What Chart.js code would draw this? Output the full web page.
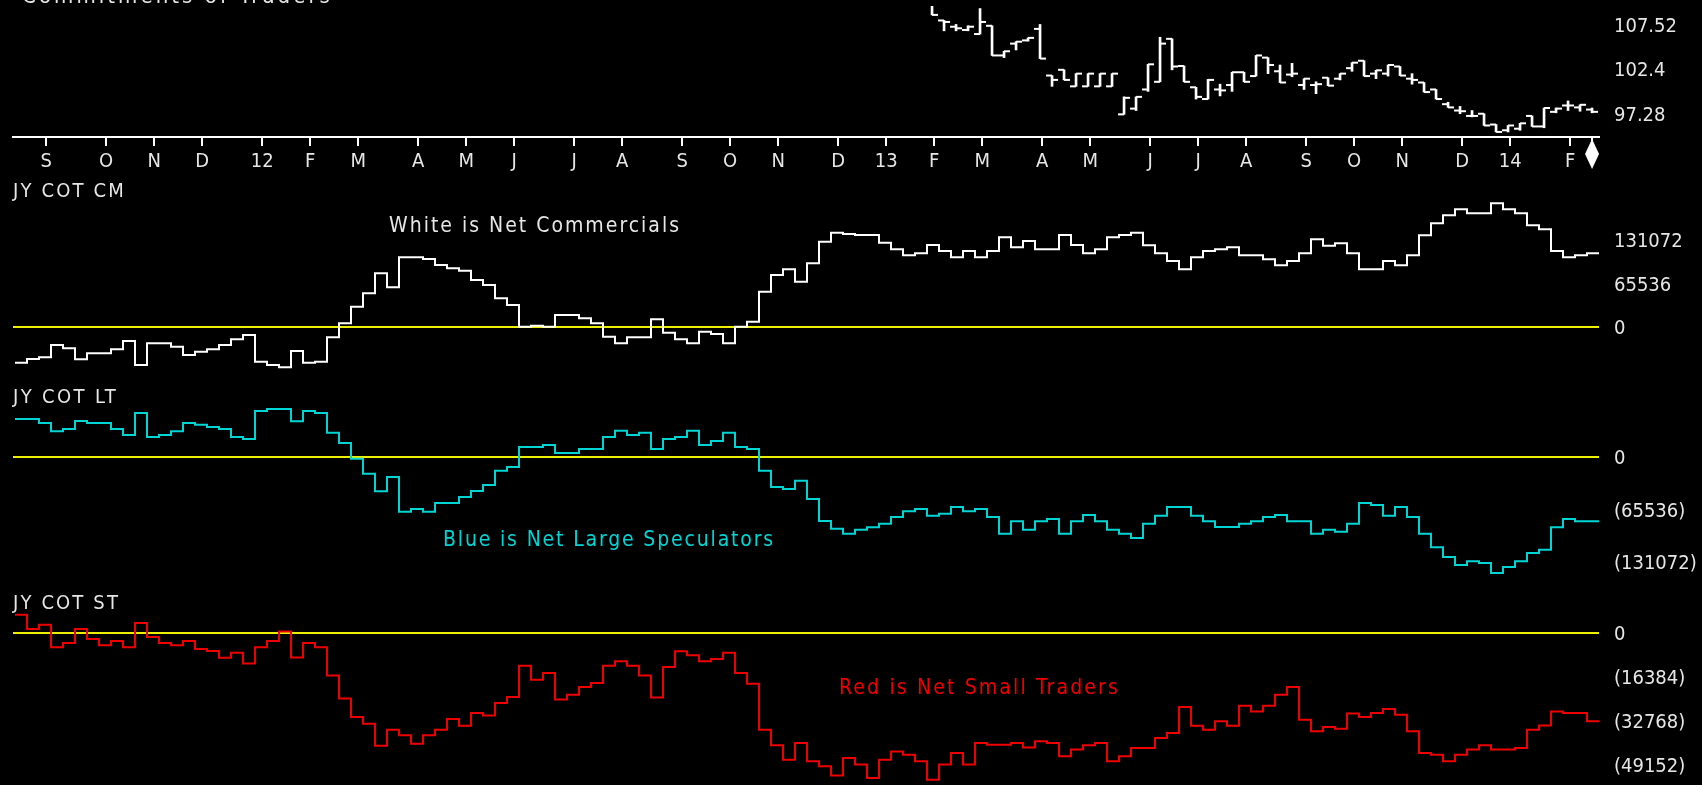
<!DOCTYPE html>
<html>
<head>
<meta charset="utf-8">
<script src="https://cdn.jsdelivr.net/npm/chart.js@4.4.0/dist/chart.umd.min.js"></script>
<style>
  html, body { margin: 0; padding: 0; background: #000; }
  #wrap { position: relative; width: 1702px; height: 785px; overflow: hidden; background: #000; }
  #wrap canvas { position: absolute; left: 0; top: 0; }
  .lbl { position: absolute; white-space: nowrap; line-height: 1;
         font-family: "DejaVu Sans Condensed", "DejaVu Sans", sans-serif; color: #e6e6e6; }
</style>
</head>
<body>
<div id="wrap">
  <canvas id="priceChart" width="1702" height="785"></canvas>
  <canvas id="cmChart" width="1702" height="785"></canvas>
  <canvas id="ltChart" width="1702" height="785"></canvas>
  <canvas id="stChart" width="1702" height="785"></canvas>

  <div class="lbl" data-x="22" data-base="4" data-w="311" data-size="22">Commitments of Traders</div>
  <div class="lbl" data-x="13" data-base="197" data-w="113" data-size="20">JY COT CM</div>
  <div class="lbl" data-x="389" data-base="233" data-w="292" data-size="21">White is Net Commercials</div>
  <div class="lbl" data-x="13" data-base="403" data-w="105" data-size="20">JY COT LT</div>
  <div class="lbl" data-x="443" data-base="547" data-w="332" data-size="21" style="color:#00d5d5">Blue is Net Large Speculators</div>
  <div class="lbl" data-x="13" data-base="609" data-w="107" data-size="20">JY COT ST</div>
  <div class="lbl" data-x="839" data-base="695" data-w="281" data-size="21" style="color:#ee0000">Red is Net Small Traders</div>
</div>

<script>
// weekly axis: Sep 2011 .. Feb 2014
const monthLabels = ['S','O','N','D','12','F','M','A','M','J','J','A','S','O','N','D','13','F','M','A','M','J','J','A','S','O','N','D','14','F', ''];
const monthTickPos = [2.6, 7.6, 11.6, 15.6, 20.6, 24.6, 28.6, 33.6, 37.6, 41.6, 46.6, 50.6, 55.6, 59.6, 63.6,
  68.6, 72.6, 76.6, 80.6, 85.6, 89.6, 94.6, 98.6, 102.6, 107.6, 111.6, 115.6, 120.6, 124.6, 129.6, 131.42];
const currentWeek = 131.42;

// net commercials (white)
const cmValues = [-53700, -48200, -45700, -27100, -32100, -48700, -39700, -39700, -33600, -21100,
  -57300, -24600, -24600, -29600, -42200, -37200, -33600, -27100, -18600, -12100,
  -52200, -57300, -60800, -36200, -53700, -52200, -15600, 5500, 30600, 50700,
  80900, 59800, 105000, 105000, 102400, 93400, 88400, 84900, 70800, 63300,
  43200, 33100, 500, 2000, 500, 18100, 18100, 13100, 5500, -14600,
  -24600, -15600, -15600, 11600, -8500, -18600, -24600, -7000, -10500, -24600,
  500, 8000, 53200, 78300, 86900, 68300, 95900, 128600, 142100, 140100,
  138600, 138600, 127100, 117000, 108000, 111000, 123500, 114500, 105000, 114500,
  105000, 114500, 135100, 120000, 129600, 117000, 117000, 138600, 123500, 111000,
  117000, 135100, 138600, 142100, 123000, 111000, 99400, 86900, 105000, 114500,
  117000, 120000, 108000, 108000, 101900, 92900, 99400, 111000, 132100, 122500,
  126100, 111000, 86900, 86900, 99400, 92900, 108000, 138100, 156200, 168200,
  177300, 171300, 171300, 186300, 177300, 171300, 153200, 147100, 114500, 105000,
  108000, 111000];

// net large speculators (cyan)
const ltValues = [47400, 47400, 42400, 32000, 35000, 44900, 42400, 42400, 35000, 27500,
  54900, 25000, 27500, 32000, 42400, 40400, 37400, 35000, 25000, 22500,
  57400, 59900, 59900, 44500, 57400, 54900, 30400, 17500, -2100, -20800,
  -42900, -25000, -68200, -64900, -68200, -57400, -57400, -49900, -42400, -35000,
  -17100, -12500, 12500, 12500, 15000, 5000, 5000, 10000, 10000, 25000,
  32900, 27500, 30400, 10000, 22500, 25000, 32900, 15000, 20000, 30400,
  12500, 10000, -17100, -37400, -39900, -29500, -52400, -79900, -89500, -95700,
  -90700, -87800, -83200, -74900, -67800, -64900, -73200, -70700, -62400, -67800,
  -64900, -74900, -95700, -80300, -90700, -80300, -77400, -95700, -80300, -72400,
  -80300, -90700, -95700, -101100, -83200, -73200, -62400, -62400, -73200, -80300,
  -87400, -87400, -83200, -80300, -74900, -72400, -80300, -80300, -95700, -90700,
  -93200, -83200, -57400, -59900, -73200, -62400, -74900, -95700, -112800, -124800,
  -134800, -130200, -132300, -144800, -137300, -130200, -119800, -115700, -87800, -77400,
  -80300, -80300];

// net small traders (red)
const stValues = [6800, 1500, 3100, -5300, -3700, 1500, -2200, -4600, -3000, -5300,
  3700, -1500, -3700, -4600, -3000, -6000, -6700, -9200, -7400, -11400,
  -5300, -3000, 600, -9100, -3700, -5300, -15800, -24400, -31300, -33800,
  -42000, -36000, -38100, -41200, -38100, -36000, -32000, -34500, -29800, -30700,
  -26100, -23800, -12200, -17400, -14900, -24800, -23000, -20100, -18600, -12200,
  -10500, -12200, -15800, -24000, -12700, -6800, -8300, -10500, -9700, -7400,
  -14900, -18900, -36000, -41800, -47200, -41000, -47800, -49600, -53100, -46500,
  -49000, -54000, -47200, -44100, -45300, -47800, -54600, -49000, -44700, -49000,
  -41000, -41600, -41600, -41000, -42600, -40300, -41000, -45900, -43400, -41800,
  -41000, -47800, -45900, -42800, -42800, -39100, -37200, -27600, -34500, -36000,
  -32900, -34500, -27100, -29200, -27100, -23000, -20100, -32300, -36600, -35000,
  -35700, -30000, -31300, -29800, -28300, -30400, -36600, -44700, -45300, -47800,
  -45300, -43400, -41800, -43400, -43400, -42800, -36000, -34400, -29200, -29800,
  -29800, -32900];

// weekly yen futures bars, first visible week = 76
const priceFirstWeek = 76;
const priceOpen = [110.0, 107.99, 107.27, 106.9, 106.43, 107.38, 103.97, 105.33, 105.70, 107.02,
  101.66, 102.32, 100.42, 100.42, 100.42, 100.42, 97.2, 97.86, 100.06, 100.94,
  105.88, 102.76, 100.31, 98.96, 100.06, 100.57, 102.04, 101.6, 103.72, 102.15,
  101.77, 100.57, 100.57, 101.41, 101.30, 102.51, 103.36, 101.88, 101.88, 102.7,
  101.30, 100.86, 100.06, 98.37, 97.64, 97.02, 97.27, 96.03, 95.37, 95.55,
  97.02, 95.81, 97.49, 98.22, 98.0, 97.75];
const priceHigh = [110.5, 107.99, 107.53, 107.38, 109.36, 107.38, 104.45, 105.55, 105.99, 107.53,
  101.66, 102.32, 101.88, 101.88, 101.88, 101.88, 99.21, 99.21, 102.95, 106.06,
  105.88, 102.76, 100.31, 101.22, 100.67, 102.04, 102.04, 103.97, 103.72, 102.87,
  103.06, 101.30, 100.94, 101.41, 101.88, 103.14, 103.36, 102.26, 102.87, 102.7,
  101.88, 100.86, 100.06, 98.59, 98.11, 97.64, 97.27, 96.03, 95.92, 96.17,
  97.02, 97.93, 97.93, 98.74, 98.30, 97.93];
const priceLow = [108.63, 106.8, 106.8, 106.8, 106.43, 103.97, 103.72, 104.6, 105.62, 103.61,
  100.42, 101.16, 100.42, 100.42, 100.42, 100.42, 97.2, 97.64, 99.84, 100.94,
  102.32, 100.94, 98.96, 98.96, 99.32, 99.84, 100.94, 101.6, 101.88, 100.86,
  101.52, 100.06, 99.58, 100.50, 101.16, 102.15, 101.6, 101.30, 101.6, 101.66,
  100.67, 99.76, 98.96, 98.0, 97.27, 96.91, 95.92, 95.18, 95.18, 95.37,
  95.81, 95.66, 97.38, 97.64, 97.56, 97.38];
const priceClose = [108.63, 107.82, 107.09, 107.27, 107.82, 103.97, 104.45, 105.55, 105.99, 103.61,
  101.16, 101.16, 101.88, 101.88, 101.88, 101.88, 99.1, 99.21, 102.95, 105.33,
  102.7, 100.94, 99.21, 101.16, 99.95, 102.04, 100.94, 103.97, 102.87, 100.86,
  101.88, 101.30, 100.67, 100.50, 101.88, 103.14, 101.6, 102.26, 102.87, 101.66,
  101.16, 99.76, 98.96, 98.0, 97.56, 97.02, 95.92, 95.18, 95.92, 96.17,
  95.81, 97.93, 97.86, 98.22, 98.30, 97.49];

const priceTicks = [97.28, 102.4, 107.52];
const cmTicks = [0, 65536, 131072];
const ltTicks = [0, -65536, -131072];
const stTicks = [0, -16384, -32768, -49152];

// ---- layout / style ----
const FONT = '"DejaVu Sans Condensed", "DejaVu Sans", sans-serif';
const TEXT = '#e6e6e6';
const ZERO = '#eeee00';
const X_MIN = -0.1667, X_MAX = 132;
const BAR_POS = 0.42, TICK_OFF = 0.25;
const fmt = v => v < 0 ? '(' + (-v) + ')' : String(v);

function rightAxis(ticks, min, max, zeroLine) {
  return {
    type: 'linear', position: 'right', min, max,
    afterBuildTicks: s => { s.ticks = ticks.map(v => ({ value: v })); },
    afterFit: s => { s.width = 103; s.paddingTop = 0; s.paddingBottom = 0; },
    ticks: { color: TEXT, font: { family: FONT, size: 20 }, padding: 15, labelOffset: 2, callback: fmt },
    grid: {
      display: zeroLine, drawTicks: false, tickLength: 0, lineWidth: 2,
      color: c => (c.tick && c.tick.value === 0) ? ZERO : 'rgba(0,0,0,0)'
    },
    border: { display: false }
  };
}

const base = {
  responsive: false, animation: false, devicePixelRatio: 1, events: [],
  plugins: { legend: { display: false }, tooltip: { enabled: false } }
};

function cotChart(id, values, color, ticks, min, max, top, bottom) {
  const pts = values.map((v, i) => ({ x: i, y: v }));
  pts.push({ x: values.length, y: values[values.length - 1] });
  return new Chart(document.getElementById(id), {
    type: 'line',
    data: { datasets: [{ data: pts, borderColor: color, borderWidth: 2, stepped: true, pointRadius: 0, fill: false }] },
    options: {
      ...base,
      layout: { padding: { left: 13, right: 0, top: top, bottom: 785 - bottom } },
      scales: {
        x: { type: 'linear', min: X_MIN, max: X_MAX, display: false },
        y: rightAxis(ticks, min, max, true)
      }
    }
  });
}

// panel pixel anchors -> value ranges
cotChart('cmChart', cmValues, '#ffffff', cmTicks, -48 / 43.5 * 65536, 132 / 43.5 * 65536, 195, 375);
cotChart('ltChart', ltValues, '#00d5d5', ltTicks, -128 / 52.5 * 65536, 57 / 52.5 * 65536, 400, 585);
cotChart('stChart', stValues, '#ee0000', stTicks, -152 / 44 * 16384, 33 / 44 * 16384, 600, 785);

// price panel
const weeks = priceOpen.map((_, i) => priceFirstWeek + i);
const diamondPlugin = {
  id: 'diamond',
  afterDraw(chart) {
    const { ctx, chartArea } = chart;
    const x = chart.scales.x.getPixelForValue(currentWeek);
    const y = chartArea.bottom;
    ctx.save();
    ctx.fillStyle = '#ffffff';
    ctx.beginPath();
    ctx.moveTo(x, y + 2);
    ctx.lineTo(x + 7, y + 17);
    ctx.lineTo(x, y + 32);
    ctx.lineTo(x - 7, y + 17);
    ctx.closePath();
    ctx.fill();
    ctx.restore();
  }
};

new Chart(document.getElementById('priceChart'), {
  type: 'scatter',
  data: {
    datasets: [
      { type: 'bar', data: weeks.map((k, i) => ({ x: k + BAR_POS, y: [priceLow[i], priceHigh[i]] })),
        backgroundColor: '#ffffff', borderWidth: 0, barThickness: 2 },
      { type: 'scatter', data: weeks.map((k, i) => ({ x: k + BAR_POS - TICK_OFF, y: priceOpen[i] })),
        pointStyle: 'line', pointRadius: 3, borderColor: '#ffffff', borderWidth: 2 },
      { type: 'scatter', data: weeks.map((k, i) => ({ x: k + BAR_POS + TICK_OFF, y: priceClose[i] })),
        pointStyle: 'line', pointRadius: 3, borderColor: '#ffffff', borderWidth: 2 }
    ]
  },
  options: {
    ...base,
    layout: { padding: { left: 13, right: 0, top: 0, bottom: 785 - 137 - 38 } },
    scales: {
      x: {
        type: 'linear', min: X_MIN, max: X_MAX, offset: false,
        afterBuildTicks: s => { s.ticks = monthTickPos.map(v => ({ value: v })); },
        afterFit: s => { s.height = 38; s.paddingLeft = 0; s.paddingRight = 0; },
        ticks: { color: TEXT, font: { family: FONT, size: 20 }, padding: 4, autoSkip: false,
                 maxRotation: 0, minRotation: 0, callback: (v, i) => monthLabels[i] || '' },
        grid: { drawOnChartArea: false, drawTicks: true, tickLength: 9, color: '#ffffff', lineWidth: 2, offset: false },
        border: { display: true, color: '#ffffff', width: 2 }
      },
      y: rightAxis(priceTicks, 102.4 - 71 / 9.1, 102.4 + 66 / 9.1, false)
    }
  },
  plugins: [diamondPlugin]
});

// text labels: place by baseline, stretch to the measured width
document.querySelectorAll('.lbl').forEach(el => {
  const size = +el.dataset.size;
  el.style.fontSize = size + 'px';
  el.style.left = el.dataset.x + 'px';
  el.style.top = (+el.dataset.base - 0.846 * size) + 'px';
  const natural = el.getBoundingClientRect().width;
  el.style.letterSpacing = ((+el.dataset.w - natural) / el.textContent.length) + 'px';
});
</script>
</body>
</html>
